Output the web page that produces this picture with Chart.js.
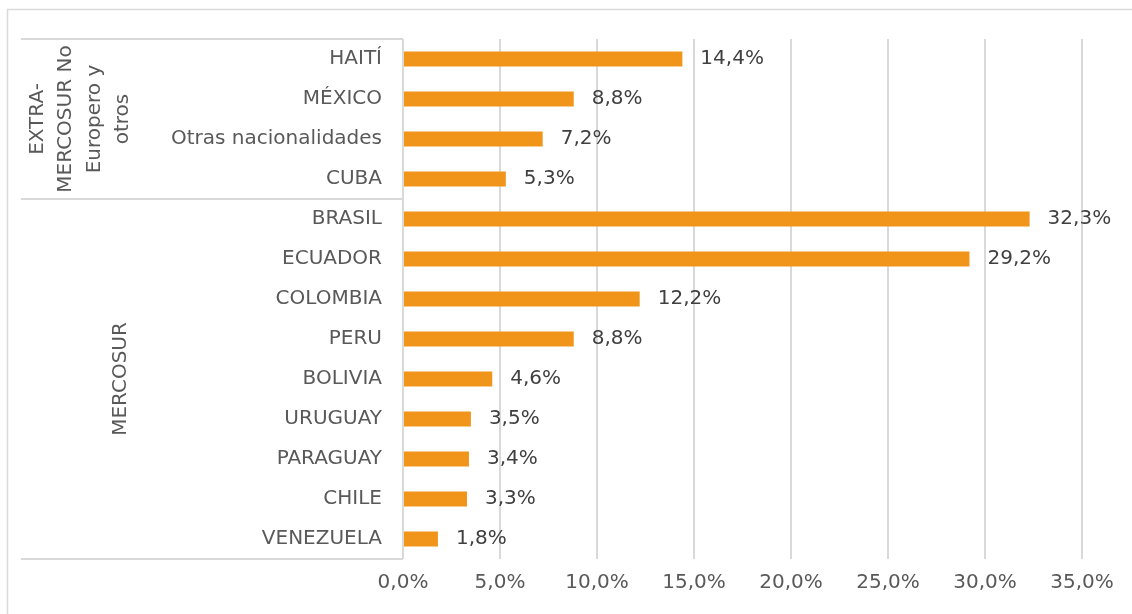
<!DOCTYPE html>
<html lang="es">
<head>
  <meta charset="UTF-8" />
  <title>Nacionalidades</title>
  <script src="https://cdn.jsdelivr.net/npm/chart.js"></script>
  <style>
    html, body { margin: 0; padding: 0; background: #ffffff; }
    canvas { display: block; }
  </style>
</head>
<body>
  <canvas id="chart" width="1132" height="614"></canvas>
  <script>
    // datos
    const paises = ["HAITÍ", "MÉXICO", "Otras nacionalidades", "CUBA", "BRASIL", "ECUADOR", "COLOMBIA", "PERU", "BOLIVIA", "URUGUAY", "PARAGUAY", "CHILE", "VENEZUELA"];
    const porcentajes = [14.4, 8.8, 7.2, 5.3, 32.3, 29.2, 12.2, 8.8, 4.6, 3.5, 3.4, 3.3, 1.8];
    const grupos = [
      { lineas: ["EXTRA-", "MERCOSUR No", "Europero y", "otros"], desde: 0, hasta: 3 },
      { lineas: ["MERCOSUR"], desde: 4, hasta: 12 }
    ];
    const xTicks = [0, 5, 10, 15, 20, 25, 30, 35];

    const FONT = "'DejaVu Sans', sans-serif";
    const gris = "#d9d9d9";

    function fmt(v) {
      return v.toFixed(1).replace(".", ",") + "%";
    }

    // marco exterior + lineas y etiquetas de grupo
    const grupoPlugin = {
      id: "grupos",
      beforeDraw(chart) {
        const ctx = chart.ctx;
        ctx.save();
        ctx.strokeStyle = gris;
        ctx.lineWidth = 1.5;
        ctx.beginPath();
        ctx.moveTo(7.5, 614);
        ctx.lineTo(7.5, 9.5);
        ctx.lineTo(1132, 9.5);
        ctx.stroke();
        ctx.restore();
      },
      afterDraw(chart) {
        const ctx = chart.ctx;
        const y = chart.scales.y;
        const area = chart.chartArea;
        ctx.save();
        ctx.strokeStyle = gris;
        ctx.lineWidth = 2;
        const limites = [area.top];
        grupos.forEach(g => {
          const fin = g.hasta < paises.length - 1
            ? (y.getPixelForValue(g.hasta) + y.getPixelForValue(g.hasta + 1)) / 2
            : area.bottom;
          limites.push(fin);
        });
        ctx.beginPath();
        limites.forEach(py => {
          ctx.moveTo(21, py);
          ctx.lineTo(area.left, py);
        });
        ctx.moveTo(area.left, area.top);
        ctx.lineTo(area.left, area.bottom);
        ctx.stroke();

        ctx.fillStyle = "#595959";
        ctx.font = "20px " + FONT;
        ctx.textAlign = "center";
        ctx.textBaseline = "middle";
        const centrosX = [80.5, 121];
        grupos.forEach((g, i) => {
          const cy = (limites[i] + limites[i + 1]) / 2;
          const n = g.lineas.length;
          g.lineas.forEach((txt, j) => {
            const cx = centrosX[i] + (j - (n - 1) / 2) * 28.5;
            ctx.save();
            ctx.translate(cx, cy);
            ctx.rotate(-Math.PI / 2);
            ctx.fillText(txt, 0, 0);
            ctx.restore();
          });
        });
        ctx.restore();
      }
    };

    // etiquetas de valor
    const valorPlugin = {
      id: "valores",
      afterDatasetsDraw(chart) {
        const ctx = chart.ctx;
        const meta = chart.getDatasetMeta(0);
        ctx.save();
        ctx.fillStyle = "#404040";
        ctx.font = "20px " + FONT;
        ctx.textAlign = "left";
        ctx.textBaseline = "middle";
        meta.data.forEach((bar, i) => {
          ctx.fillText(fmt(porcentajes[i]), bar.x + 18, bar.y);
        });
        ctx.restore();
      }
    };

    new Chart(document.getElementById("chart"), {
      type: "bar",
      data: {
        labels: paises,
        datasets: [{
          data: porcentajes,
          backgroundColor: "#F0951A",
          borderWidth: 0,
          barPercentage: 0.38,
          categoryPercentage: 1
        }]
      },
      options: {
        indexAxis: "y",
        responsive: false,
        animation: false,
        devicePixelRatio: 1,
        layout: { padding: { top: 39, right: 50, bottom: 0, left: 0 } },
        plugins: {
          legend: { display: false },
          tooltip: { enabled: false }
        },
        scales: {
          y: {
            afterFit(scale) { scale.width = 403; },
            grid: { display: false, drawTicks: false },
            border: { display: false },
            ticks: {
              color: "#595959",
              font: { family: FONT, size: 20 },
              padding: 21,
              autoSkip: false
            }
          },
          x: {
            min: 0,
            max: 35,
            afterFit(scale) { scale.height = 55; },
            afterBuildTicks(scale) { scale.ticks = xTicks.map(v => ({ value: v })); },
            grid: { color: gris, lineWidth: 2, drawTicks: false },
            border: { display: false },
            ticks: {
              color: "#595959",
              font: { family: FONT, size: 20 },
              padding: 12,
              callback: v => fmt(v)
            }
          }
        }
      },
      plugins: [grupoPlugin, valorPlugin]
    });
  </script>
</body>
</html>
